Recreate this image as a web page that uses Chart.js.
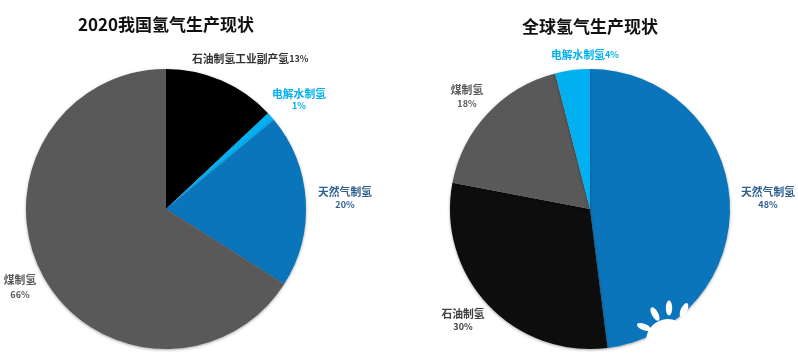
<!DOCTYPE html>
<html>
<head>
<meta charset="utf-8">
<script src="https://cdn.jsdelivr.net/npm/chart.js@4"></script>
<style>
    html, body { margin: 0; padding: 0; background: #fff; }
    #page { position: relative; width: 798px; height: 364px; overflow: hidden; }
    canvas { position: absolute; top: 0; filter: blur(0.4px); }
</style>
</head>
<body>
<div id="page">
    <canvas id="chart-china" width="416" height="364" style="left:-42px"></canvas>
    <canvas id="chart-world" width="416" height="364" style="left:382px"></canvas>
</div>
<script>
const chinaTitle = '2020我国氢气生产现状';
const chinaNames = ['石油制氢工业副产氢', '电解水制氢', '天然气制氢', '煤制氢'];
const chinaValues = [13, 1, 20, 66];

const worldTitle = '全球氢气生产现状';
const worldNames = ['天然气制氢', '石油制氢', '煤制氢', '电解水制氢'];
const worldValues = [48, 30, 18, 4];

const fontFamily = '"Noto Sans CJK SC", "Noto Sans", sans-serif';

// slice colors
const chinaColors = ['#000000', '#00b0f0', '#0b75bc', '#595959'];
const worldColors = ['#0b75bc', '#0d0d0d', '#595959', '#00b0f0'];

// label placement, canvas coordinates: [x, y of name, y of percent, text color]
// y of percent is null when the percent sits on the same line as the name
const chinaLabels = [
    [234, 59, null, '#333333'],
    [341, 94, 106, '#00b0f0'],
    [387, 192, 205, '#2f5f8f'],
    [62, 280, 295, '#595959']
];
const worldLabels = [
    [386, 192, 205, '#2f5f8f'],
    [81, 314, 327, '#404040'],
    [85, 90, 104, '#595959'],
    [169, 55, null, '#00b0f0']
];

const pieShadow = {
    id: 'pieShadow',
    beforeDatasetsDraw(chart) {
        const ctx = chart.ctx;
        ctx.save();
        ctx.shadowColor = 'rgba(0, 0, 0, 0.35)';
        ctx.shadowBlur = 3;
        ctx.shadowOffsetY = 1;
    },
    afterDatasetsDraw(chart) {
        chart.ctx.restore();
    }
};

const sliceLabels = {
    id: 'sliceLabels',
    afterDraw(chart, args, opts) {
        const ctx = chart.ctx;
        const values = chart.data.datasets[0].data;
        const nameFont = 'bold 10.8px ' + fontFamily;
        const pctFont = 'bold 9px ' + fontFamily;
        ctx.save();
        ctx.textBaseline = 'middle';
        chart.data.labels.forEach(function (name, i) {
            const place = opts.places[i];
            const pct = values[i] + '%';
            ctx.fillStyle = place[3];
            if (place[2] === null) {
                // one line, name then percent
                ctx.textAlign = 'left';
                ctx.font = nameFont;
                ctx.fillText(name, place[0], place[1]);
                const w = ctx.measureText(name).width;
                ctx.font = pctFont;
                ctx.fillText(pct, place[0] + w, place[1]);
            } else {
                ctx.textAlign = 'center';
                ctx.font = nameFont;
                ctx.fillText(name, place[0], place[1]);
                ctx.font = pctFont;
                ctx.fillText(pct, place[0], place[2]);
            }
        });
        ctx.restore();
    }
};

// white sun watermark in the lower right corner of the world pie
const watermark = {
    id: 'watermark',
    afterDraw(chart) {
        const ctx = chart.ctx;
        const petals = [[287, 308, 0], [273, 314, -0.5], [302, 310, 0.45], [262, 327, -1.2]];
        ctx.save();
        ctx.fillStyle = '#ffffff';
        petals.forEach(function (p) {
            ctx.beginPath();
            ctx.ellipse(p[0], p[1], 3.2, 7.5, p[2], 0, Math.PI * 2);
            ctx.fill();
        });
        ctx.beginPath();
        ctx.arc(286, 341, 22, 0, Math.PI * 2);
        ctx.fill();
        ctx.restore();
    }
};

function makePie(id, title, titleTop, names, values, colors, places, extra) {
    const ctx = document.getElementById(id).getContext('2d');
    return new Chart(ctx, {
        type: 'pie',
        data: {
            labels: names,
            datasets: [{
                data: values,
                backgroundColor: colors,
                borderWidth: 0
            }]
        },
        options: {
            responsive: false,
            animation: false,
            layout: { padding: { bottom: 15 } },
            plugins: {
                legend: { display: false },
                tooltip: { enabled: false },
                title: {
                    display: true,
                    text: title,
                    color: '#111111',
                    font: { family: fontFamily, size: 17, weight: 'bold', lineHeight: 1.2 },
                    padding: { top: titleTop, bottom: 69 - titleTop - 20.4 }
                },
                sliceLabels: { places: places }
            }
        },
        plugins: [pieShadow, sliceLabels].concat(extra)
    });
}

makePie('chart-china', chinaTitle, 14, chinaNames, chinaValues, chinaColors, chinaLabels, []);
makePie('chart-world', worldTitle, 16, worldNames, worldValues, worldColors, worldLabels, [watermark]);
</script>
</body>
</html>
